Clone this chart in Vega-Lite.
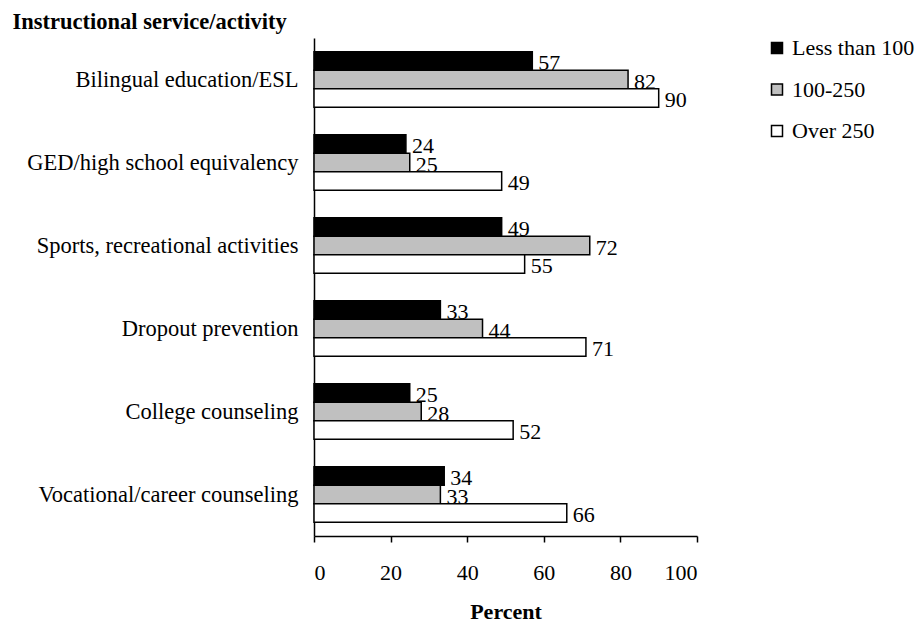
{
  "$schema": "https://vega.github.io/schema/vega-lite/v6.json",
  "autosize": {"type": "none"},
  "width": 383,
  "height": 498,
  "padding": {"left": 314, "top": 38, "right": 222, "bottom": 87},
  "background": "white",
  "config": {
    "view": {"stroke": null},
    "font": "Liberation Serif"
  },
  "data": {
    "values": [
      {"activity": "Bilingual education/ESL", "group": "Less than 100", "pct": 57},
      {"activity": "Bilingual education/ESL", "group": "100-250", "pct": 82},
      {"activity": "Bilingual education/ESL", "group": "Over 250", "pct": 90},
      {"activity": "GED/high school equivalency", "group": "Less than 100", "pct": 24},
      {"activity": "GED/high school equivalency", "group": "100-250", "pct": 25},
      {"activity": "GED/high school equivalency", "group": "Over 250", "pct": 49},
      {"activity": "Sports, recreational activities", "group": "Less than 100", "pct": 49},
      {"activity": "Sports, recreational activities", "group": "100-250", "pct": 72},
      {"activity": "Sports, recreational activities", "group": "Over 250", "pct": 55},
      {"activity": "Dropout prevention", "group": "Less than 100", "pct": 33},
      {"activity": "Dropout prevention", "group": "100-250", "pct": 44},
      {"activity": "Dropout prevention", "group": "Over 250", "pct": 71},
      {"activity": "College counseling", "group": "Less than 100", "pct": 25},
      {"activity": "College counseling", "group": "100-250", "pct": 28},
      {"activity": "College counseling", "group": "Over 250", "pct": 52},
      {"activity": "Vocational/career counseling", "group": "Less than 100", "pct": 34},
      {"activity": "Vocational/career counseling", "group": "100-250", "pct": 33},
      {"activity": "Vocational/career counseling", "group": "Over 250", "pct": 66}
    ]
  },
  "encoding": {
    "y": {
      "field": "activity",
      "type": "nominal",
      "sort": null,
      "scale": {"paddingInner": 0.33, "paddingOuter": 0.165},
      "axis": {
        "title": "Instructional service/activity",
        "titleAngle": 0,
        "titleAlign": "left",
        "titleBaseline": "alphabetic",
        "titleX": -302,
        "titleY": -10,
        "titleFont": "Liberation Serif",
        "titleFontSize": 22.5,
        "titleFontWeight": "bold",
        "titleColor": "black",
        "labelFont": "Liberation Serif",
        "labelFontSize": 22.5,
        "labelColor": "black",
        "labelLimit": 500,
        "labelPadding": 16,
        "ticks": false,
        "tickSize": 0,
        "domainColor": "black",
        "domainWidth": 1.5,
        "grid": false
      }
    },
    "yOffset": {
      "field": "group",
      "type": "nominal",
      "sort": ["Less than 100", "100-250", "Over 250"],
      "scale": {"paddingInner": 0, "paddingOuter": 0}
    },
    "x": {
      "field": "pct",
      "type": "quantitative",
      "scale": {"domain": [0, 100]},
      "axis": {
        "title": "Percent",
        "values": [0, 20, 40, 60, 80, 100],
        "titleFont": "Liberation Serif",
        "titleFontSize": 22,
        "titleFontWeight": "bold",
        "titleColor": "black",
        "titlePadding": 18,
        "labelFont": "Liberation Serif",
        "labelFontSize": 22,
        "labelColor": "black",
        "labelPadding": 20,
        "tickSize": 6,
        "tickColor": "black",
        "tickWidth": 1.5,
        "domainColor": "black",
        "domainWidth": 1.5,
        "grid": false
      }
    }
  },
  "layer": [
    {
      "mark": {"type": "bar", "stroke": "black", "strokeWidth": 1.5},
      "encoding": {
        "color": {
          "field": "group",
          "type": "nominal",
          "scale": {"domain": ["Less than 100", "100-250", "Over 250"], "range": ["black", "#c0c0c0", "white"]},
          "legend": {
            "title": null,
            "orient": "none",
            "legendX": 452,
            "legendY": -1,
            "symbolType": "square",
            "symbolSize": 121,
            "symbolStrokeColor": "black",
            "symbolStrokeWidth": 1.5,
            "symbolOpacity": 1,
            "labelFont": "Liberation Serif",
            "labelFontSize": 22,
            "labelColor": "black",
            "labelOffset": 4,
            "labelLimit": 300,
            "rowPadding": 19.5
          }
        }
      }
    },
    {
      "mark": {"type": "text", "align": "left", "baseline": "middle", "dx": 6, "dy": 2, "font": "Liberation Serif", "fontSize": 22, "color": "black"},
      "encoding": {
        "text": {"field": "pct", "type": "quantitative"}
      }
    }
  ]
}
